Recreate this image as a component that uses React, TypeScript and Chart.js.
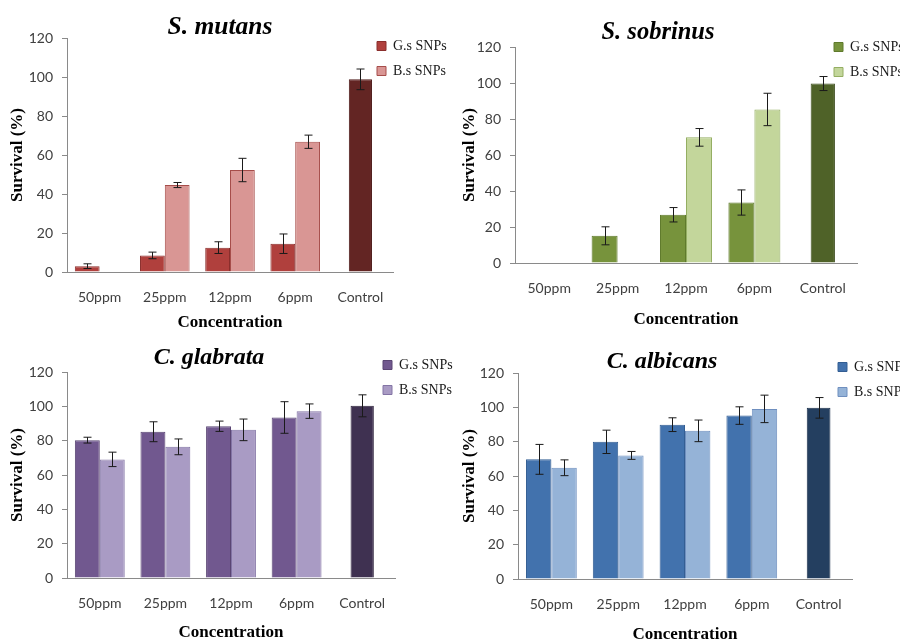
import React, { useEffect, useRef } from 'react';
import { Chart, registerables } from 'chart.js';

Chart.register(...registerables);

// ---------- data ----------
const categories = ['50ppm', '25ppm', '12ppm', '6ppm', 'Control'];
const yTicks = [0, 20, 40, 60, 80, 100, 120];
const seriesNames = ['G.s SNPs', 'B.s SNPs', 'Control'];

// S. mutans
const mutansGs = [3, 8.5, 12.5, 14.5, null];
const mutansGsErr = [1.2, 1.7, 3, 5, null];
const mutansBs = [null, 44.6, 52.3, 66.8, null];
const mutansBsErr = [null, 1.3, 6, 3.4, null];
const mutansCtrl = [null, null, null, null, 98.8];
const mutansCtrlErr = [null, null, null, null, 5.3];

// S. sobrinus
const sobrinusGs = [null, 15.1, 26.8, 33.6, null];
const sobrinusGsErr = [null, 5, 4, 7, null];
const sobrinusBs = [null, null, 69.8, 85.3, null];
const sobrinusBsErr = [null, null, 4.9, 9, null];
const sobrinusCtrl = [null, null, null, null, 99.7];
const sobrinusCtrlErr = [null, null, null, null, 3.9];

// C. glabrata
const glabrataGs = [80.3, 85.2, 88.4, 93.5, null];
const glabrataGsErr = [1.7, 5.8, 3, 9.2, null];
const glabrataBs = [69.1, 76.4, 86.3, 97.2, null];
const glabrataBsErr = [4.2, 4.6, 6.3, 4.2, null];
const glabrataCtrl = [null, null, null, null, 100.3];
const glabrataCtrlErr = [null, null, null, null, 6.4];

// C. albicans
const albicansGs = [69.7, 79.9, 89.9, 95.2, null];
const albicansGsErr = [8.7, 6.8, 4, 5.1, null];
const albicansBs = [64.8, 72, 86.3, 99.1, null];
const albicansBsErr = [4.6, 2.3, 6.3, 8, null];
const albicansCtrl = [null, null, null, null, 99.7];
const albicansCtrlErr = [null, null, null, null, 6];

// ---------- styling ----------
const TICK_COLOR = '#404040';
const AXIS_COLOR = '#8a8a8a';
const SERIF = '"Liberation Serif", "Times New Roman", serif';
const SANS = 'Lato, "Liberation Sans", sans-serif';

const panels = [
  {
    title: 'S. mutans',
    gs: mutansGs, gsErr: mutansGsErr, bs: mutansBs, bsErr: mutansBsErr, ctrl: mutansCtrl, ctrlErr: mutansCtrlErr,
    colors: { g: '#b0403d', gb: '#8a2e2c', b: '#d99694', bb: '#a64d4a', c: '#632523', cb: '#4e1b1a' },
    geom: { cl: 0, ct: 0, cw: 480, ch: 340, left: 67, right: 393, top: 38, bottom: 272, tx: 220, ty: 27, lx: 377, ly: 46, yt: 18, xl: 297, xt: 323, ts: 25.5 },
  },
  {
    title: 'S. sobrinus',
    gs: sobrinusGs, gsErr: sobrinusGsErr, bs: sobrinusBs, bsErr: sobrinusBsErr, ctrl: sobrinusCtrl, ctrlErr: sobrinusCtrlErr,
    colors: { g: '#77933c', gb: '#5f7a2c', b: '#c3d69b', bb: '#94ae62', c: '#4f6228', cb: '#3d4d1e' },
    geom: { cl: 450, ct: 0, cw: 450, ch: 340, left: 515, right: 857, top: 47, bottom: 263, tx: 658, ty: 33, lx: 834, ly: 47, yt: 470, xl: 288, xt: 320, ts: 24.5 },
  },
  {
    title: 'C. glabrata',
    gs: glabrataGs, gsErr: glabrataGsErr, bs: glabrataBs, bsErr: glabrataBsErr, ctrl: glabrataCtrl, ctrlErr: glabrataCtrlErr,
    colors: { g: '#71588f', gb: '#5a4573', b: '#a99bc4', bb: '#8374a5', c: '#3f3151', cb: '#2f243d' },
    geom: { cl: 0, ct: 322, cw: 480, ch: 330, left: 67, right: 395, top: 372, bottom: 578, tx: 209, ty: 358, lx: 383, ly: 365, yt: 18, xl: 603, xt: 633, ts: 24 },
  },
  {
    title: 'C. albicans',
    gs: albicansGs, gsErr: albicansGsErr, bs: albicansBs, bsErr: albicansBsErr, ctrl: albicansCtrl, ctrlErr: albicansCtrlErr,
    colors: { g: '#4272ad', gb: '#335e93', b: '#95b3d7', bb: '#6f8fbf', c: '#243f60', cb: '#1a2f49' },
    geom: { cl: 450, ct: 322, cw: 450, ch: 330, left: 518, right: 852, top: 373, bottom: 579, tx: 662, ty: 362, lx: 838, ly: 367, yt: 470, xl: 604, xt: 635, ts: 24 },
  },
];

const errorBarPlugin = {
  id: 'errorBars',
  afterDatasetsDraw(chart: any) {
    const ctx = chart.ctx;
    const y = chart.scales.y;
    ctx.save();
    ctx.strokeStyle = '#1a1a1a';
    ctx.lineWidth = 1;
    chart.data.datasets.forEach((ds: any, i: number) => {
      const meta = chart.getDatasetMeta(i);
      if (!ds.errors) return;
      ds.data.forEach((v: any, j: number) => {
        const e = ds.errors[j];
        if (v == null || e == null) return;
        const el = meta.data[j];
        if (!el) return;
        const x = Math.round(el.x) + 0.5;
        const yTop = y.getPixelForValue(v + e);
        const yBot = y.getPixelForValue(Math.max(0, v - e));
        ctx.beginPath();
        ctx.moveTo(x, yTop);
        ctx.lineTo(x, yBot);
        ctx.moveTo(x - 4, yTop);
        ctx.lineTo(x + 4, yTop);
        ctx.moveTo(x - 4, yBot);
        ctx.lineTo(x + 4, yBot);
        ctx.stroke();
      });
    });
    ctx.restore();
  },
};

const AXIS_TITLE_SIZE = 17;
const AXIS_TITLE_LH = AXIS_TITLE_SIZE * 1.2;
const TICK_SIZE = 14;
const TICK_LH = TICK_SIZE * 1.2;
const LEG_SIZE = 14;
const LEG_PAD = 11;

function Panel({ p }: { p: any }) {
  const ref = useRef<HTMLCanvasElement>(null);
  const g = p.geom;
  const cw = g.cw;

  useEffect(() => {
    if (!ref.current) return;
    const TITLE_LH = g.ts * 1.2;
    const xH = g.xt - g.bottom + AXIS_TITLE_LH / 2;
    const padTop = g.top - g.ct - TITLE_LH;
    const padRight = g.cl + cw - g.right;
    const padBottom = g.ct + g.ch - g.bottom - xH;
    const yW = g.left - g.cl;

    const placePlugin = {
      id: 'place',
      afterLayout(chart: any) {
        const t = chart.titleBlock;
        if (t) {
          const cx = g.tx - g.cl;
          t.left = cx - 170;
          t.right = cx + 170;
          t.width = 340;
          t.top = g.ty - g.ct - TITLE_LH / 2;
          t.bottom = t.top + TITLE_LH;
          t.height = TITLE_LH;
        }
        const l = chart.legend;
        if (l) {
          l.left = g.lx - g.cl - LEG_PAD;
          l.top = g.ly - g.ct - LEG_PAD - LEG_SIZE / 2;
          l.width = 200;
          l.height = 200;
          l.right = l.left + 200;
          l.bottom = l.top + 200;
        }
      },
    };

    const c = p.colors;
    const chart = new Chart(ref.current, {
      type: 'bar',
      data: {
        labels: categories,
        datasets: [
          {
            label: seriesNames[0], data: p.gs, errors: p.gsErr,
            backgroundColor: c.g, borderColor: c.gb, borderWidth: 1,
            categoryPercentage: 0.76, barPercentage: 1,
          } as any,
          {
            label: seriesNames[1], data: p.bs, errors: p.bsErr,
            backgroundColor: c.b, borderColor: c.bb, borderWidth: 1,
            categoryPercentage: 0.76, barPercentage: 1,
          } as any,
          {
            label: seriesNames[2], data: p.ctrl, errors: p.ctrlErr,
            backgroundColor: c.c, borderColor: c.cb, borderWidth: 1,
            grouped: false, categoryPercentage: 1, barPercentage: 0.355,
          } as any,
        ],
      },
      options: {
        responsive: false,
        animation: false,
        events: [],
        layout: { padding: { top: padTop, left: 0, right: padRight, bottom: padBottom } },
        plugins: {
          tooltip: { enabled: false },
          title: {
            display: true,
            text: p.title,
            color: '#000',
            padding: 0,
            font: { family: SERIF, size: g.ts, weight: 'bold', style: 'italic', lineHeight: 1.2 },
          },
          legend: {
            display: true,
            position: 'chartArea',
            align: 'start',
            labels: {
              boxWidth: 9,
              boxHeight: 9,
              padding: LEG_PAD,
              color: '#1a1a1a',
              font: { family: SERIF, size: LEG_SIZE },
              filter: (item: any) => item.datasetIndex < 2,
            },
          },
        },
        scales: {
          x: {
            type: 'category',
            offset: true,
            grid: { display: false, drawTicks: false },
            border: { display: true, color: AXIS_COLOR, width: 1 },
            ticks: {
              color: TICK_COLOR,
              padding: g.xl - g.bottom - TICK_LH / 2,
              maxRotation: 0,
              autoSkip: false,
              font: { family: SANS, size: TICK_SIZE, lineHeight: 1.2 },
            },
            title: {
              display: true,
              text: 'Concentration',
              color: '#000',
              padding: 0,
              font: { family: SERIF, size: AXIS_TITLE_SIZE, weight: 'bold', lineHeight: 1.2 },
            },
            afterFit: (s: any) => { s.height = xH; },
          },
          y: {
            min: yTicks[0],
            max: yTicks[yTicks.length - 1],
            grid: { display: true, drawOnChartArea: false, drawTicks: true, tickLength: 5, color: AXIS_COLOR },
            border: { display: true, color: AXIS_COLOR, width: 1 },
            afterBuildTicks: (s: any) => { s.ticks = yTicks.map((v) => ({ value: v })); },
            ticks: {
              color: TICK_COLOR,
              padding: 9,
              font: { family: SANS, size: TICK_SIZE, lineHeight: 1.2 },
            },
            title: {
              display: true,
              text: 'Survival (%)',
              color: '#000',
              padding: { top: g.yt - g.cl - AXIS_TITLE_LH / 2, bottom: 0 },
              font: { family: SERIF, size: AXIS_TITLE_SIZE, weight: 'bold', lineHeight: 1.2 },
            },
            afterFit: (s: any) => { s.width = yW; },
          },
        },
      } as any,
      plugins: [placePlugin, errorBarPlugin] as any,
    });
    return () => chart.destroy();
  }, []);

  return (
    <canvas
      ref={ref}
      width={cw}
      height={g.ch}
      style={{ position: 'absolute', left: g.cl, top: g.ct, width: cw, height: g.ch }}
    />
  );
}

export default function App() {
  return (
    <div
      style={{
        position: 'absolute',
        left: 0,
        top: 0,
        width: 900,
        height: 644,
        overflow: 'hidden',
        background: '#ffffff',
      }}
    >
      {panels.map((p) => (
        <Panel key={p.title} p={p} />
      ))}
    </div>
  );
}
